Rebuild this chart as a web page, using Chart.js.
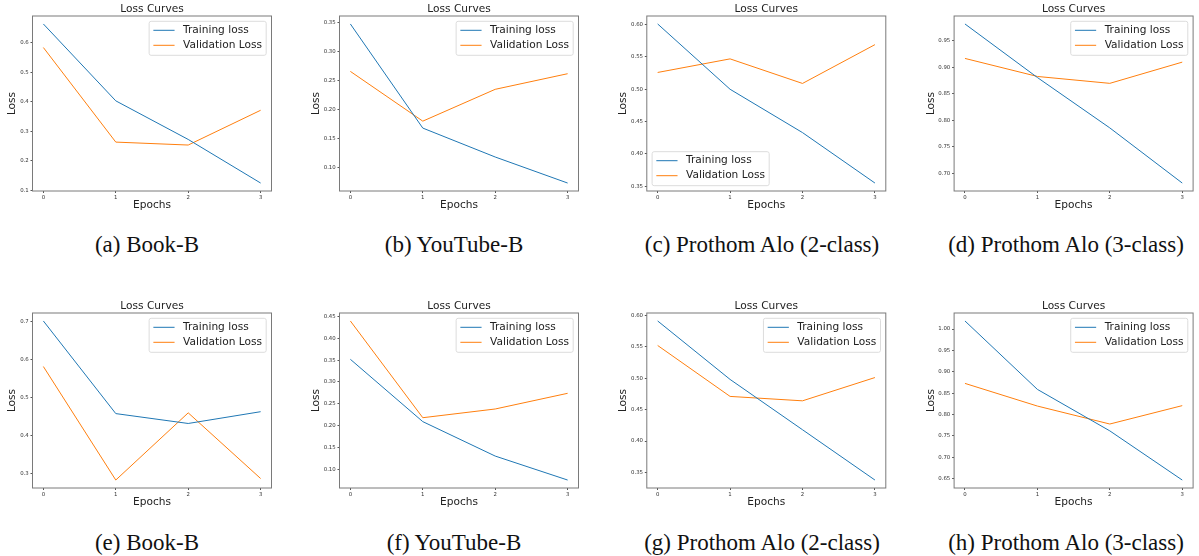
<!DOCTYPE html>
<html>
<head>
<meta charset="utf-8">
<script src="https://cdn.jsdelivr.net/npm/chart.js@4.4.1/dist/chart.umd.min.js"></script>
<style>
  html, body { margin: 0; padding: 0; background: #ffffff; }
  #wrap { position: relative; width: 1199px; height: 556px; overflow: hidden; background: #fff; }
  canvas { position: absolute; }
  .cap { position: absolute; width: 400px; text-align: center; font-family: "Liberation Serif", "Times New Roman", serif;
         font-size: 23px; line-height: 23px; color: #111; white-space: nowrap; }
</style>
</head>
<body>
<div id="wrap"></div>
<script>
// ---------- data ----------
const epochs = [0, 1, 2, 3];
const xTickLabels = ["0", "1", "2", "3"];
const seriesNames = ["Training loss", "Validation Loss"];

const bookB1Train = [0.664, 0.403, 0.272, 0.124];
const bookB1Val   = [0.584, 0.263, 0.253, 0.371];
const youtube1Train = [0.348, 0.168, 0.118, 0.073];
const youtube1Val   = [0.266, 0.180, 0.235, 0.262];
const prothom2c1Train = [0.601, 0.500, 0.433, 0.355];
const prothom2c1Val   = [0.526, 0.547, 0.509, 0.569];
const prothom3c1Train = [0.982, 0.881, 0.786, 0.682];
const prothom3c1Val   = [0.917, 0.883, 0.870, 0.910];

const bookB2Train = [0.702, 0.458, 0.432, 0.463];
const bookB2Val   = [0.582, 0.283, 0.460, 0.287];
const youtube2Train = [0.352, 0.209, 0.130, 0.075];
const youtube2Val   = [0.440, 0.218, 0.238, 0.274];
const prothom2c2Train = [0.591, 0.498, 0.418, 0.338];
const prothom2c2Val   = [0.552, 0.471, 0.464, 0.501];
const prothom3c2Train = [1.019, 0.859, 0.762, 0.647];
const prothom3c2Val   = [0.873, 0.820, 0.778, 0.821];

const yTicksA = [0.1, 0.2, 0.3, 0.4, 0.5, 0.6];
const yTicksB = [0.10, 0.15, 0.20, 0.25, 0.30, 0.35];
const yTicksC = [0.35, 0.40, 0.45, 0.50, 0.55, 0.60];
const yTicksD = [0.70, 0.75, 0.80, 0.85, 0.90, 0.95];
const yTicksE = [0.3, 0.4, 0.5, 0.6, 0.7];
const yTicksF = [0.10, 0.15, 0.20, 0.25, 0.30, 0.35, 0.40, 0.45];
const yTicksG = [0.35, 0.40, 0.45, 0.50, 0.55, 0.60];
const yTicksH = [0.65, 0.70, 0.75, 0.80, 0.85, 0.90, 0.95, 1.00];

const captions = ["(a) Book-B", "(b) YouTube-B", "(c) Prothom Alo (2-class)", "(d) Prothom Alo (3-class)",
                  "(e) Book-B", "(f) YouTube-B", "(g) Prothom Alo (2-class)", "(h) Prothom Alo (3-class)"];

// ---------- layout / style ----------
const COLORS = ["#1f77b4", "#ff7f0e"];
const FONT = "DejaVu Sans";
const colBoxLeft = [32.5, 339.5, 646.8, 954.1];
const colCanvasLeft = [0, 307, 614, 921];
const colYLabGap = [20.2, 22.8, 23.5, 22.4];
const colCapX = [147, 454, 762, 1066];
const rowTop = [0, 297];
const capTop = [233, 530.5];
const BOX_W = 239, CANVAS_W = 276, CANVAS_H = 215, BOX_TOP = 16, BOX_H = 175;

const panels = [
  { train: bookB1Train, val: bookB1Val, ticks: yTicksA, dec: 1, legend: "ur" },
  { train: youtube1Train, val: youtube1Val, ticks: yTicksB, dec: 2, legend: "ur" },
  { train: prothom2c1Train, val: prothom2c1Val, ticks: yTicksC, dec: 2, legend: "ll" },
  { train: prothom3c1Train, val: prothom3c1Val, ticks: yTicksD, dec: 2, legend: "ur" },
  { train: bookB2Train, val: bookB2Val, ticks: yTicksE, dec: 1, legend: "ur" },
  { train: youtube2Train, val: youtube2Val, ticks: yTicksF, dec: 2, legend: "ur" },
  { train: prothom2c2Train, val: prothom2c2Val, ticks: yTicksG, dec: 2, legend: "ur" },
  { train: prothom3c2Train, val: prothom3c2Val, ticks: yTicksH, dec: 2, legend: "ur" }
];

// ---------- plugins ----------
const framePlugin = {
  id: "frame",
  afterDatasetsDraw(chart) {
    const a = chart.chartArea, ctx = chart.ctx;
    ctx.save();
    ctx.strokeStyle = "#7a7a7a";
    ctx.lineWidth = 1;
    ctx.strokeRect(a.left, a.top, a.right - a.left, a.bottom - a.top);
    ctx.restore();
  }
};

const titlePlugin = {
  id: "mtitle",
  afterDraw(chart) {
    const a = chart.chartArea, ctx = chart.ctx;
    ctx.save();
    ctx.font = "10.6px '" + FONT + "'";
    ctx.fillStyle = "#222";
    ctx.textAlign = "center";
    ctx.textBaseline = "middle";
    ctx.fillText("Loss Curves", (a.left + a.right) / 2, a.top - 7);
    ctx.restore();
  }
};

const legendPlugin = {
  id: "mlegend",
  afterDraw(chart) {
    const a = chart.chartArea, ctx = chart.ctx;
    const where = chart.options.plugins.mlegend.where;
    const fs = 10.6, pad = 0.4 * fs, hl = 2 * fs, htp = 0.8 * fs, gap = 5.3;
    ctx.save();
    ctx.font = fs + "px '" + FONT + "'";
    const ds = chart.data.datasets;
    let tw = 0;
    ds.forEach(d => { tw = Math.max(tw, ctx.measureText(d.label).width); });
    const w = 2 * pad + hl + htp + tw, h = 34;
    const x = where === "ll" ? a.left + gap : a.right - gap - w;
    const y = where === "ll" ? a.bottom - gap - h : a.top + gap;
    const r = 2;
    ctx.beginPath();
    ctx.moveTo(x + r, y);
    ctx.lineTo(x + w - r, y); ctx.quadraticCurveTo(x + w, y, x + w, y + r);
    ctx.lineTo(x + w, y + h - r); ctx.quadraticCurveTo(x + w, y + h, x + w - r, y + h);
    ctx.lineTo(x + r, y + h); ctx.quadraticCurveTo(x, y + h, x, y + h - r);
    ctx.lineTo(x, y + r); ctx.quadraticCurveTo(x, y, x + r, y);
    ctx.closePath();
    ctx.fillStyle = "rgba(255,255,255,0.8)";
    ctx.fill();
    ctx.strokeStyle = "#dcdcdc";
    ctx.lineWidth = 1;
    ctx.stroke();
    ds.forEach((d, i) => {
      const cy = y + 9 + i * 15;
      ctx.strokeStyle = d.borderColor;
      ctx.lineWidth = 1;
      ctx.beginPath();
      ctx.moveTo(x + pad, cy);
      ctx.lineTo(x + pad + hl, cy);
      ctx.stroke();
      ctx.fillStyle = "#222";
      ctx.textAlign = "left";
      ctx.textBaseline = "middle";
      ctx.fillText(d.label, x + pad + hl + htp, cy);
    });
    ctx.restore();
  }
};

// ---------- build ----------
const wrap = document.getElementById("wrap");

panels.forEach((p, idx) => {
  const col = idx % 4, row = Math.floor(idx / 4);
  const cl = colCanvasLeft[col];
  const yW = colBoxLeft[col] - cl;
  const padRight = CANVAS_W - yW - BOX_W;
  const yTitlePad = yW - colYLabGap[col] - 10.6 * 1.2 / 2;

  const cv = document.createElement("canvas");
  cv.width = CANVAS_W; cv.height = CANVAS_H;
  cv.style.left = cl + "px"; cv.style.top = rowTop[row] + "px";
  cv.style.width = CANVAS_W + "px"; cv.style.height = CANVAS_H + "px";
  wrap.appendChild(cv);

  const cap = document.createElement("div");
  cap.className = "cap";
  cap.textContent = captions[idx];
  cap.style.left = (colCapX[col] - 200) + "px";
  cap.style.top = capTop[row] + "px";
  wrap.appendChild(cap);

  const all = p.train.concat(p.val);
  const lo = Math.min(...all), hi = Math.max(...all), m = (hi - lo) * 0.05;
  const xmin = epochs[0] - (epochs[epochs.length - 1] - epochs[0]) * 0.05;
  const xmax = epochs[epochs.length - 1] + (epochs[epochs.length - 1] - epochs[0]) * 0.05;

  const mk = (vals, i) => ({
    label: seriesNames[i],
    data: epochs.map((e, j) => ({ x: e, y: vals[j] })),
    borderColor: COLORS[i],
    backgroundColor: COLORS[i],
    borderWidth: 1,
    pointRadius: 0,
    tension: 0,
    fill: false
  });

  new Chart(cv, {
    type: "line",
    data: { datasets: [mk(p.train, 0), mk(p.val, 1)] },
    options: {
      animation: false,
      responsive: false,
      devicePixelRatio: 1,
      events: [],
      layout: { padding: { top: BOX_TOP, left: 0, right: padRight, bottom: 0 } },
      plugins: {
        legend: { display: false },
        tooltip: { enabled: false },
        title: { display: false },
        mlegend: { where: p.legend }
      },
      scales: {
        x: {
          type: "linear",
          min: xmin, max: xmax,
          afterBuildTicks: s => { s.ticks = epochs.map(v => ({ value: v })); },
          afterFit: s => { s.height = CANVAS_H - BOX_TOP - BOX_H; },
          ticks: {
            autoSkip: false, maxRotation: 0, padding: 1.5,
            font: { size: 5.4, family: FONT }, color: "#333",
            callback: (v) => xTickLabels[epochs.indexOf(v)]
          },
          grid: { drawOnChartArea: false, drawTicks: true, tickLength: 2, color: "#555" },
          border: { display: false },
          title: { display: true, text: "Epochs", color: "#222",
                   font: { size: 10.6, family: FONT }, padding: { top: 0, bottom: 3 } }
        },
        y: {
          type: "linear",
          min: lo - m, max: hi + m,
          afterBuildTicks: s => { s.ticks = p.ticks.map(v => ({ value: v })); },
          afterFit: s => { s.width = yW; },
          ticks: {
            autoSkip: false, padding: 1.8,
            font: { size: 5.4, family: FONT }, color: "#333",
            callback: (v) => Number(v).toFixed(p.dec)
          },
          grid: { drawOnChartArea: false, drawTicks: true, tickLength: 2, color: "#555" },
          border: { display: false },
          title: { display: true, text: "Loss", color: "#222",
                   font: { size: 10.6, family: FONT }, padding: { top: yTitlePad, bottom: 0 } }
        }
      }
    },
    plugins: [framePlugin, titlePlugin, legendPlugin]
  });
});
</script>
</body>
</html>
